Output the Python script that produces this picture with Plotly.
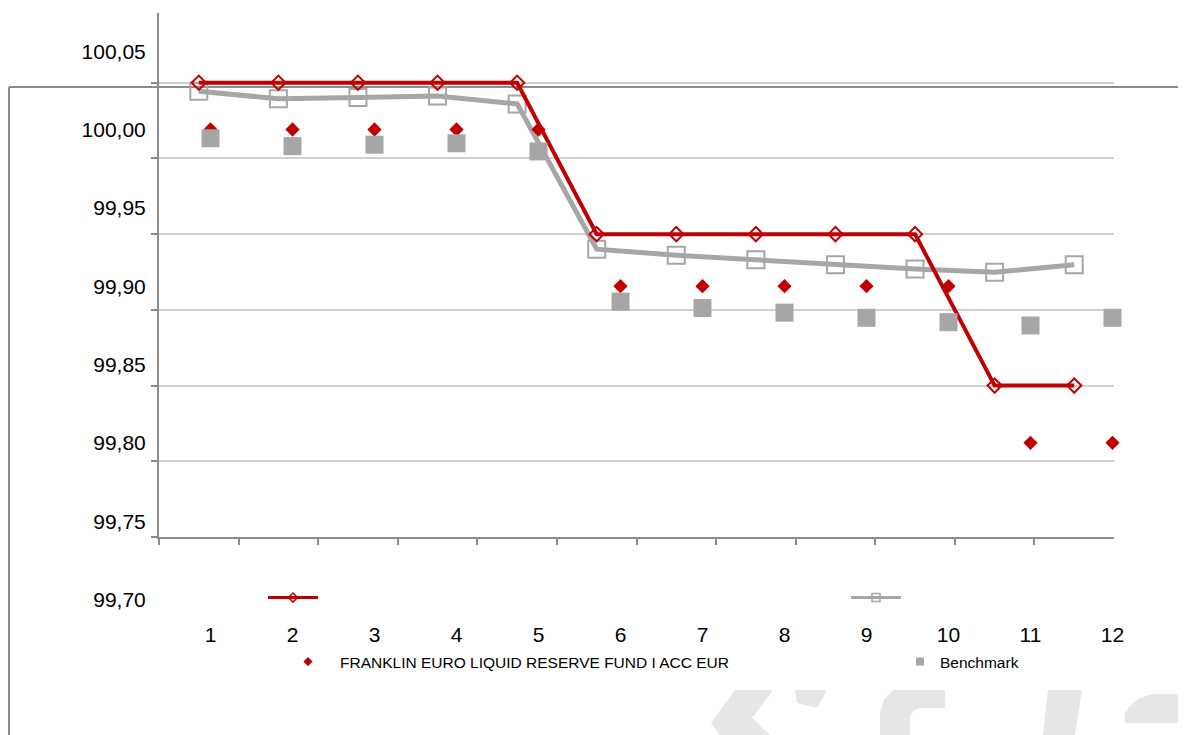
import plotly.graph_objects as go

# ---------------- data ----------------
categories = ["1", "2", "3", "4", "5", "6", "7", "8", "9", "10", "11", "12"]
fund = [100.00, 100.00, 100.00, 100.00, 100.00,
        99.90, 99.90, 99.90, 99.90, 99.90,
        99.80, 99.80]
benchmark = [99.9944, 99.9894, 99.9903, 99.9912, 99.9860,
             99.8901, 99.8860, 99.8831, 99.8798, 99.8770,
             99.8749, 99.8798]
y_ticks = [99.70, 99.75, 99.80, 99.85, 99.90, 99.95, 100.00, 100.05]
y_tick_text = ["99,70", "99,75", "99,80", "99,85", "99,90", "99,95", "100,00", "100,05"]
fund_name = "FRANKLIN EURO LIQUID RESERVE FUND I ACC EUR"
bench_name = "Benchmark"

# ---------------- style ----------------
OFF = 8                     # page body margin
W, H = 1186 - OFF, 735 - OFF
RED = "#c00000"
GRAY = "#a6a6a6"
AXIS = "#8c8c8c"
GRID = "#d0d0d0"
FONT = "Liberation Sans, Arial, sans-serif"


def px(x):
    return min(max((x - OFF) / W, 0), 1)


def py(y):
    return min(max(1 - (y - OFF) / H, 0), 1)


fig = go.Figure()

# layer A: lines with open markers (gray first, red on top)
fig.add_trace(go.Scatter(
    x=categories, y=benchmark, mode="lines+markers", xaxis="x", yaxis="y",
    line=dict(color=GRAY, width=5),
    marker=dict(symbol="square-open", size=17, color=GRAY, line=dict(width=2, color=GRAY)),
    showlegend=False, hoverinfo="skip"))
fig.add_trace(go.Scatter(
    x=categories, y=fund, mode="lines+markers", xaxis="x", yaxis="y",
    line=dict(color=RED, width=4),
    marker=dict(symbol="diamond-open", size=11, color=RED, line=dict(width=2, color=RED)),
    showlegend=False, hoverinfo="skip"))

# layer B: filled markers
fig.add_trace(go.Scatter(
    x=categories, y=fund, mode="markers", xaxis="x2", yaxis="y2",
    marker=dict(symbol="diamond", size=11, color=RED),
    showlegend=False, hoverinfo="skip"))
fig.add_trace(go.Scatter(
    x=categories, y=benchmark, mode="markers", xaxis="x2", yaxis="y2",
    marker=dict(symbol="square", size=18, color=GRAY),
    showlegend=False, hoverinfo="skip"))

# legend entries (no data, legend only)
fig.add_trace(go.Scatter(x=[None], y=[None], mode="lines+markers", name=" ",
                         line=dict(color=RED, width=3),
                         marker=dict(symbol="diamond-open", size=7, color=RED, line=dict(width=1.5, color=RED)),
                         legend="legend", xaxis="x", yaxis="y"))
fig.add_trace(go.Scatter(x=[None], y=[None], mode="lines+markers", name=" ",
                         line=dict(color=GRAY, width=3),
                         marker=dict(symbol="square-open", size=8, color=GRAY, line=dict(width=1.5, color=GRAY)),
                         legend="legend2", xaxis="x", yaxis="y"))
fig.add_trace(go.Scatter(x=[None], y=[None], mode="markers", name=fund_name,
                         marker=dict(symbol="diamond", size=7, color=RED),
                         legend="legend3", xaxis="x2", yaxis="y2"))
fig.add_trace(go.Scatter(x=[None], y=[None], mode="markers", name=bench_name,
                         marker=dict(symbol="square", size=8, color=GRAY),
                         legend="legend4", xaxis="x2", yaxis="y2"))

leg_common = dict(orientation="h", bgcolor="rgba(0,0,0,0)", borderwidth=0,
                  font=dict(family=FONT, size=15.5, color="#000"),
                  xanchor="left", yanchor="middle", itemclick=False, itemdoubleclick=False)

# ---- axes ----
yA_top = 100.00 + (82.7 - 13) / 75.7 * 0.05
B_TOP, B_BOT = 40, 613
yB_top = 100.00 + (129.5 - B_TOP) / 78.33 * 0.05
yB_bot = 100.00 - (B_BOT - 129.5) / 78.33 * 0.05
STEP_B = 82.0
xB_lo = 0 - (210.5 - 169) / STEP_B
xB_hi = 0 + (1153 - 210.5) / STEP_B

fig.update_layout(
    width=W, height=H,
    margin=dict(l=0, r=0, t=0, b=0),
    paper_bgcolor="white", plot_bgcolor="rgba(0,0,0,0)",
    showlegend=True,
    font=dict(family=FONT, color="#000"),
    xaxis=dict(domain=[px(159), px(1114)], anchor="y", type="category",
               range=[-0.5, 11.5], showticklabels=False, ticks="outside",
               ticklen=6, tickwidth=2, tickcolor=AXIS, tickson="boundaries",
               showline=True, linecolor=AXIS, linewidth=2, showgrid=False,
               zeroline=False, fixedrange=True),
    yaxis=dict(domain=[py(537), py(13)], anchor="x", range=[99.70, yA_top],
               tickvals=y_ticks[:-1], showticklabels=False, ticks="outside",
               ticklen=6, tickwidth=2, tickcolor=AXIS, showline=True,
               linecolor=AXIS, linewidth=2, showgrid=True, gridcolor=GRID,
               gridwidth=2, zeroline=False, fixedrange=True),
    xaxis2=dict(domain=[px(169), px(1153)], anchor="y2", type="category",
                range=[xB_lo, xB_hi], showline=False, showgrid=False,
                zeroline=False, ticks="outside", ticklen=3,
                tickcolor="rgba(0,0,0,0)",
                tickfont=dict(family=FONT, size=21, color="#000"), fixedrange=True),
    yaxis2=dict(domain=[py(B_BOT), py(B_TOP)], anchor="x2", range=[yB_bot, yB_top],
                tickvals=y_ticks, ticktext=y_tick_text, showline=False,
                showgrid=False, zeroline=False, ticks="outside", ticklen=18,
                tickcolor="rgba(0,0,0,0)",
                tickfont=dict(family=FONT, size=21, color="#000"), fixedrange=True),
    legend=dict(x=px(263), y=py(598), itemwidth=50, **leg_common),
    legend2=dict(x=px(846), y=py(598), itemwidth=50, **leg_common),
    legend3=dict(x=px(276), y=py(662), itemwidth=54, **leg_common),
    legend4=dict(x=px(900), y=py(662), itemwidth=30, **leg_common),
)

# ---- frame lines ----
shapes = [
    dict(type="line", xref="paper", yref="paper", x0=px(9), x1=px(1186),
         y0=py(87), y1=py(87), line=dict(color=AXIS, width=2), layer="below"),
    dict(type="line", xref="paper", yref="paper", x0=px(9), x1=px(9),
         y0=py(87), y1=py(735), line=dict(color=AXIS, width=2), layer="below"),
]


# ---- watermark (decorative logo fragments) ----
def path_px(pts):
    s = "M %f %f" % (px(pts[0][0]), py(pts[0][1]))
    for p in pts[1:]:
        s += " L %f %f" % (px(p[0]), py(p[1]))
    return s + " Z"


WM = "#e6e6e6"
wm_polys = [
    [(735, 690), (773, 690), (752, 718), (770, 735), (720, 735), (711, 723)],
    [(795, 690), (827, 690), (817, 708), (797, 703)],
    [(880, 735), (880, 713), (884, 700), (893, 690), (945, 690), (945, 708),
     (920, 708), (913, 711), (910, 717), (910, 735)],
    [(1048, 690), (1082, 690), (1075, 735), (1043, 735)],
    [(1125, 723), (1125, 713), (1131, 705), (1140, 698), (1153, 694),
     (1186, 694), (1186, 723)],
]
for poly in wm_polys:
    shapes.append(dict(type="path", xref="paper", yref="paper", path=path_px(poly),
                       fillcolor=WM, line=dict(width=0), layer="below"))

fig.update_layout(shapes=shapes)

fig.write_html("out.html")
